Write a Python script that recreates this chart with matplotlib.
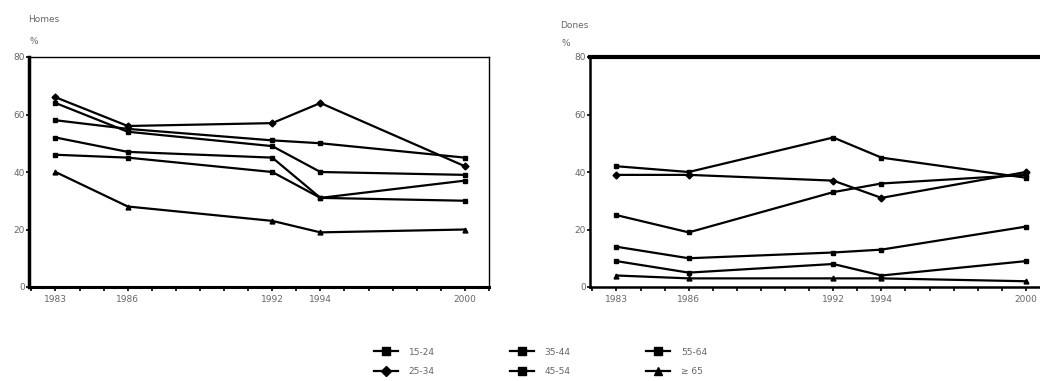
import matplotlib
matplotlib.use("Agg")
import matplotlib.pyplot as plt
from matplotlib.ticker import MultipleLocator, FixedLocator

years = [1983, 1986, 1992, 1994, 2000]
groups = ["15-24", "25-34", "35-44", "45-54", "55-64", "\u2265 65"]

# Homes (men)
homes = {
    "15-24": [58, 55, 51, 50, 45],
    "25-34": [66, 56, 57, 64, 42],
    "35-44": [64, 54, 49, 40, 39],
    "45-54": [52, 47, 45, 31, 37],
    "55-64": [46, 45, 40, 31, 30],
    "\u2265 65": [40, 28, 23, 19, 20],
}
# Dones (women)
dones = {
    "15-24": [42, 40, 52, 45, 38],
    "25-34": [39, 39, 37, 31, 40],
    "35-44": [25, 19, 33, 36, 39],
    "45-54": [14, 10, 12, 13, 21],
    "55-64": [9, 5, 8, 4, 9],
    "\u2265 65": [4, 3, 3, 3, 2],
}
markers = {"15-24": "s", "25-34": "D", "35-44": "s", "45-54": "s",
           "55-64": "s", "\u2265 65": "^"}

yticks = [0, 20, 40, 60, 80]

fig = plt.figure(figsize=(10.4, 3.81), dpi=100)
tick_color = "#666666"

def make_ax(rect, data, top_lw, left_lw, bottom_lw, right_visible):
    ax = fig.add_axes(rect)
    for g in groups:
        ax.plot(years, data[g], color="black", lw=1.6, marker=markers[g],
                ms=3.5, label=g, clip_on=False)
    ax.set_xlim(1981.9, 2001)
    ax.set_ylim(0, 80)
    ax.xaxis.set_major_locator(FixedLocator(years))
    ax.xaxis.set_minor_locator(MultipleLocator(1))
    ax.set_yticks(yticks)
    ax.tick_params(axis="both", which="both", direction="out", colors="black",
                   labelcolor=tick_color, labelsize=6.5, width=1.2)
    ax.tick_params(axis="x", which="both", length=3, pad=3)
    ax.tick_params(axis="y", length=2, pad=1)
    ax.spines["left"].set_linewidth(left_lw)
    ax.spines["bottom"].set_linewidth(bottom_lw)
    ax.spines["top"].set_linewidth(top_lw)
    ax.spines["right"].set_linewidth(1.0)
    ax.spines["right"].set_visible(right_visible)
    return ax

axL = make_ax([29/1040, 1-287/381, 460/1040, 230/381], homes, 1.0, 2.5, 2.2, True)
axR = make_ax([590/1040, 1-287/381, 460/1040, 230/381], dones, 3.0, 1.8, 1.8, False)

fig.text(28/1040, 1-19/381, "Homes", fontsize=6.5, color=tick_color, va="center")
fig.text(29/1040, 1-42/381, "%", fontsize=6.5, color=tick_color, va="center")
fig.text(560/1040, 1-26/381, "Dones", fontsize=6.5, color=tick_color, va="center")
fig.text(561/1040, 1-43/381, "%", fontsize=6.5, color=tick_color, va="center")

handles, labels = axL.get_legend_handles_labels()
fig.legend(handles, labels, ncol=3, loc="center left",
           bbox_to_anchor=(0.352, 0.05), frameon=False, fontsize=6.5,
           labelcolor=tick_color, handlelength=2.6, columnspacing=8.4,
           handletextpad=1.2, labelspacing=1.2, markerscale=1.5)

fig.savefig("out.png", dpi=100)
